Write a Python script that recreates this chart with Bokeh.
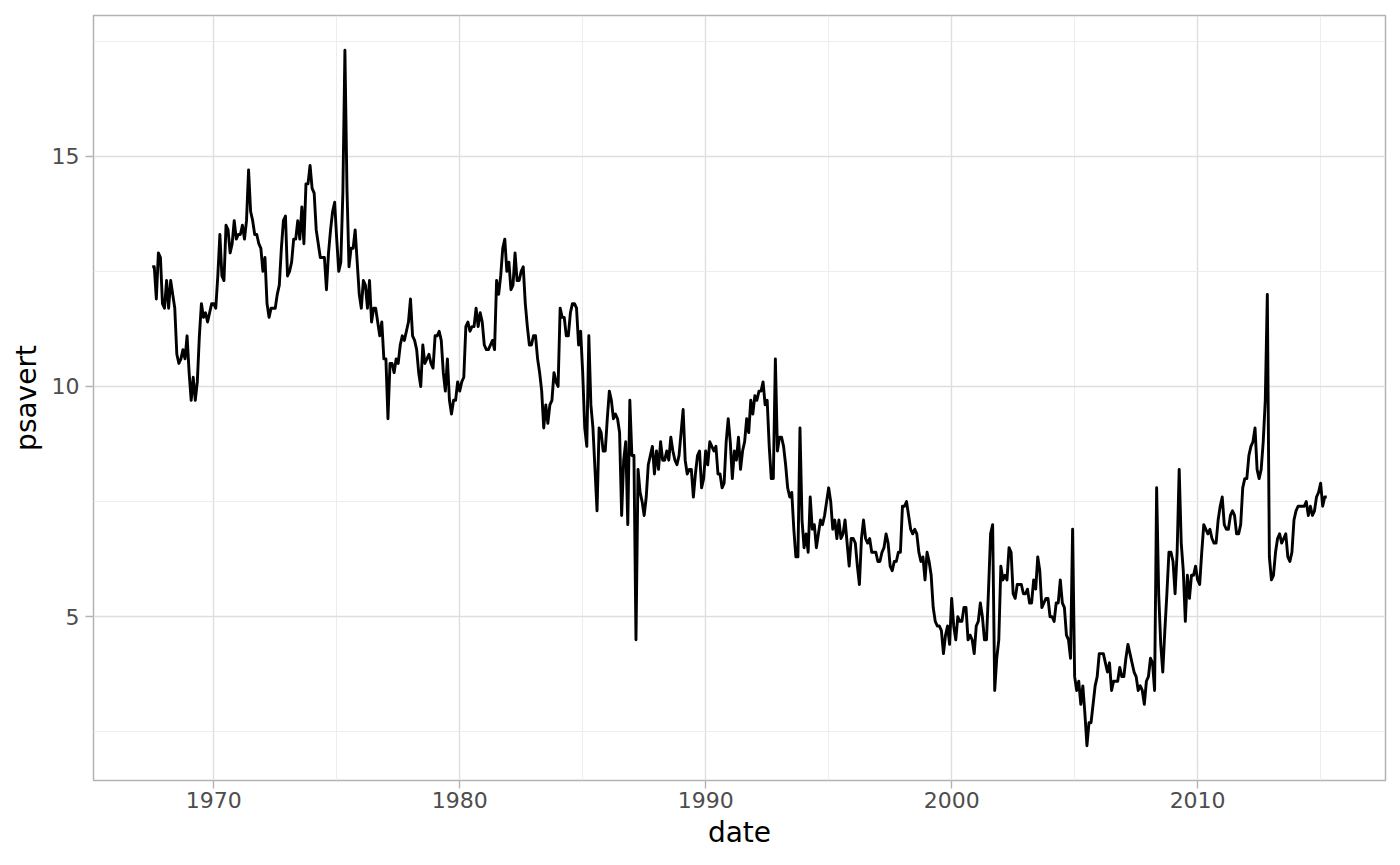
from bokeh.plotting import figure
from bokeh.models import FixedTicker, Range1d, ColumnDataSource
from bokeh.embed import file_html
from bokeh.resources import INLINE

start_year = 1967
start_month = 7  # July 1967

psavert = [
    # 1967 (Jul-Dec)
    12.6, 12.6, 11.9, 12.9, 12.8, 11.8,
    # 1968
    11.7, 12.3, 11.7, 12.3, 12.0, 11.7, 10.7, 10.5, 10.6, 10.8, 10.6, 11.1,
    # 1969
    10.3, 9.7, 10.2, 9.7, 10.1, 11.1, 11.8, 11.5, 11.6, 11.4, 11.6, 11.8,
    # 1970
    11.8, 11.7, 12.4, 13.3, 12.4, 12.3, 13.5, 13.4, 12.9, 13.1, 13.6, 13.2,
    # 1971
    13.3, 13.3, 13.5, 13.2, 13.6, 14.7, 13.8, 13.6, 13.3, 13.3, 13.1, 13.0,
    # 1972
    12.5, 12.8, 11.8, 11.5, 11.7, 11.7, 11.7, 12.0, 12.2, 13.0, 13.6, 13.7,
    # 1973
    12.4, 12.5, 12.7, 13.2, 13.2, 13.6, 13.2, 13.9, 13.1, 14.4, 14.4, 14.8,
    # 1974
    14.3, 14.2, 13.4, 13.1, 12.8, 12.8, 12.8, 12.1, 12.9, 13.4, 13.8, 14.0,
    # 1975
    13.2, 12.5, 12.7, 14.2, 17.3, 14.3, 12.6, 13.0, 13.0, 13.4, 12.7, 12.0,
    # 1976
    11.7, 12.3, 12.2, 11.7, 12.3, 11.4, 11.7, 11.7, 11.4, 11.1, 11.4, 10.6,
    # 1977
    10.6, 9.3, 10.5, 10.5, 10.3, 10.6, 10.5, 10.9, 11.1, 11.0, 11.2, 11.4,
    # 1978
    11.9, 11.1, 11.0, 10.8, 10.3, 10.0, 10.9, 10.5, 10.6, 10.7, 10.5, 10.4,
    # 1979
    11.1, 11.1, 11.2, 11.0, 10.3, 9.9, 10.6, 9.7, 9.4, 9.7, 9.7, 10.1,
    # 1980
    9.9, 10.1, 10.2, 11.3, 11.4, 11.2, 11.3, 11.3, 11.7, 11.3, 11.6, 11.4,
    # 1981
    10.9, 10.8, 10.8, 10.9, 11.0, 10.8, 12.3, 12.0, 12.4, 13.0, 13.2, 12.5,
    # 1982
    12.7, 12.1, 12.2, 12.9, 12.3, 12.3, 12.5, 12.6, 11.8, 11.3, 10.9, 10.9,
    # 1983
    11.1, 11.1, 10.6, 10.3, 9.9, 9.1, 9.6, 9.2, 9.6, 9.7, 10.3, 10.1,
    # 1984
    10.0, 11.7, 11.5, 11.5, 11.1, 11.1, 11.6, 11.8, 11.8, 11.7, 10.9, 11.2,
    # 1985
    10.3, 9.1, 8.7, 11.1, 9.6, 9.1, 8.2, 7.3, 9.1, 9.0, 8.6, 8.6,
    # 1986
    9.3, 9.9, 9.7, 9.3, 9.4, 9.3, 9.0, 7.2, 8.4, 8.8, 7.0, 9.7,
    # 1987
    8.5, 8.5, 4.5, 8.2, 7.7, 7.5, 7.2, 7.6, 8.3, 8.5, 8.7, 8.1,
    # 1988
    8.6, 8.2, 8.8, 8.4, 8.4, 8.6, 8.4, 8.9, 8.6, 8.4, 8.3, 8.5,
    # 1989
    9.0, 9.5, 8.4, 8.1, 8.2, 8.2, 7.6, 8.1, 8.5, 8.6, 7.8, 8.0,
    # 1990
    8.6, 8.3, 8.8, 8.7, 8.6, 8.7, 8.1, 8.1, 7.8, 7.9, 8.8, 9.3,
    # 1991
    8.8, 8.0, 8.6, 8.4, 8.9, 8.2, 8.6, 8.8, 9.3, 9.0, 9.7, 9.4,
    # 1992
    9.8, 9.7, 9.9, 9.9, 10.1, 9.6, 9.7, 8.7, 8.0, 8.0, 10.6, 8.6,
    # 1993
    8.9, 8.9, 8.7, 8.3, 7.8, 7.6, 7.7, 6.9, 6.3, 6.3, 9.1, 7.1,
    # 1994
    6.5, 6.8, 6.4, 7.6, 6.9, 7.0, 6.5, 6.8, 7.1, 7.0, 7.2, 7.5,
    # 1995
    7.8, 7.5, 6.9, 7.1, 6.7, 7.1, 6.7, 6.8, 7.1, 6.6, 6.1, 6.7,
    # 1996
    6.7, 6.6, 6.1, 5.7, 6.7, 7.1, 6.7, 6.6, 6.7, 6.4, 6.4, 6.4,
    # 1997
    6.2, 6.2, 6.4, 6.5, 6.8, 6.6, 6.1, 6.0, 6.2, 6.2, 6.4, 6.4,
    # 1998
    7.4, 7.4, 7.5, 7.2, 6.9, 6.8, 6.9, 6.8, 6.4, 6.2, 6.3, 5.8,
    # 1999
    6.4, 6.2, 5.9, 5.2, 4.9, 4.8, 4.8, 4.7, 4.2, 4.6, 4.8, 4.4,
    # 2000
    5.4, 4.8, 4.5, 5.0, 4.9, 4.9, 5.2, 5.2, 4.5, 4.6, 4.5, 4.2,
    # 2001
    4.8, 4.9, 5.3, 5.0, 4.5, 4.5, 5.6, 6.8, 7.0, 3.4, 4.1, 4.5,
    # 2002
    6.1, 5.8, 5.9, 5.8, 6.5, 6.4, 5.5, 5.4, 5.7, 5.7, 5.7, 5.5,
    # 2003
    5.5, 5.6, 5.3, 5.3, 5.8, 5.6, 6.3, 6.0, 5.2, 5.3, 5.4, 5.4,
    # 2004
    5.0, 5.0, 4.9, 5.3, 5.3, 5.8, 5.3, 5.2, 4.6, 4.5, 4.1, 6.9,
    # 2005
    3.7, 3.4, 3.6, 3.1, 3.5, 2.9, 2.2, 2.7, 2.7, 3.1, 3.5, 3.7,
    # 2006
    4.2, 4.2, 4.2, 4.0, 3.8, 4.0, 3.4, 3.6, 3.6, 3.6, 3.9, 3.7,
    # 2007
    3.7, 4.1, 4.4, 4.2, 4.0, 3.8, 3.7, 3.4, 3.5, 3.4, 3.1, 3.6,
    # 2008
    3.7, 4.1, 4.0, 3.4, 7.8, 5.5, 4.4, 3.8, 4.7, 5.5, 6.4, 6.4,
    # 2009
    6.2, 5.5, 6.4, 8.2, 6.6, 6.0, 4.9, 5.9, 5.4, 5.9, 5.9, 6.1,
    # 2010
    5.8, 5.7, 6.4, 7.0, 6.9, 6.8, 6.9, 6.7, 6.6, 6.6, 7.1, 7.4,
    # 2011
    7.6, 7.0, 6.9, 6.9, 7.2, 7.3, 7.2, 6.8, 6.8, 7.0, 7.8, 8.0,
    # 2012
    8.0, 8.5, 8.7, 8.8, 9.1, 8.2, 8.0, 8.2, 8.8, 9.7, 12.0, 6.3,
    # 2013
    5.8, 5.9, 6.4, 6.7, 6.8, 6.6, 6.7, 6.8, 6.3, 6.2, 6.4, 7.1,
    # 2014
    7.3, 7.4, 7.4, 7.4, 7.4, 7.5, 7.2, 7.4, 7.2, 7.3, 7.6, 7.7,
    # 2015 (Jan-Apr)
    7.9, 7.4, 7.6, 7.6,
]

x_ticks = [1970, 1980, 1990, 2000, 2010]
x_minor = [1965, 1975, 1985, 1995, 2005, 2015]
y_ticks = [5, 10, 15]
y_minor = [2.5, 7.5, 12.5, 17.5]

dates = [start_year + (start_month - 1 + i) / 12.0 for i in range(len(psavert))]

xmin, xmax = min(dates), max(dates)
ymin, ymax = min(psavert), max(psavert)
xpad = (xmax - xmin) * 0.05
ypad = (ymax - ymin) * 0.05

src = ColumnDataSource(dict(date=dates, psavert=psavert))

p = figure(width=1392, height=857, output_backend="svg", toolbar_location=None,
           x_range=Range1d(xmin - xpad, xmax + xpad),
           y_range=Range1d(ymin - ypad, ymax + ypad),
           min_border_left=93, min_border_right=7, min_border_top=15,
           min_border_bottom=77)

p.line("date", "psavert", source=src, line_color="black", line_width=2.9,
       line_join="round")

p.xaxis.ticker = FixedTicker(ticks=x_ticks, minor_ticks=x_minor)
p.yaxis.ticker = FixedTicker(ticks=y_ticks, minor_ticks=y_minor)

p.background_fill_color = "white"
p.border_fill_color = "white"
p.outline_line_color = "#B3B3B3"
p.outline_line_width = 1.5

for g in (p.xgrid, p.ygrid):
    g.grid_line_color = "#DEDEDE"
    g.grid_line_width = 1.4
    g.minor_grid_line_color = "#EBEBEB"
    g.minor_grid_line_width = 0.9

for ax in (p.xaxis, p.yaxis):
    ax.axis_line_color = None
    ax.major_tick_line_color = "#B3B3B3"
    ax.major_tick_line_width = 1.4
    ax.major_tick_in = 0
    ax.major_tick_out = 8
    ax.minor_tick_line_color = None
    ax.major_label_text_font = "DejaVu Sans"
    ax.major_label_text_font_size = "22px"
    ax.major_label_text_color = "#4D4D4D"
    ax.axis_label_text_font = "DejaVu Sans"
    ax.axis_label_text_font_size = "28px"
    ax.axis_label_text_color = "black"
    ax.axis_label_text_font_style = "normal"

p.xaxis.axis_label = "date"
p.yaxis.axis_label = "psavert"
p.xaxis.major_label_standoff = 3
p.yaxis.major_label_standoff = 6
p.xaxis.axis_label_standoff = 5
p.yaxis.axis_label_standoff = 6

open("out.html", "w").write(file_html(p, INLINE))
